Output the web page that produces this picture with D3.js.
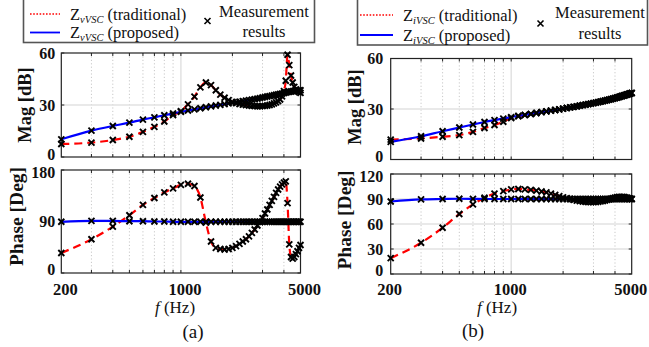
<!DOCTYPE html>
<html><head><meta charset="utf-8">
<script src="https://cdn.jsdelivr.net/npm/d3@7"></script>
<style>body{margin:0;background:#fff}svg{display:block}text{font-family:"Liberation Serif","Times New Roman",serif;fill:#111}</style>
</head><body><svg id="c" width="649" height="347"></svg>
<script>
// ---------- data ----------
const freq = [200,300,400,500,600,700,800,900,1000,
  1100,1200,1300,1400,1500,1600,1700,1800,1900,2000,
  2100,2200,2300,2400,2500,2600,2700,2800,2900,3000,
  3100,3200,3300,3400,3500,3600,3700,3800,3900,4000,
  4100,4200,4300,4400,4500,4600,4700,4800,4900,5000];
const xTickLabels = [200,1000,5000];
const gridDotted = [300,400,500,600,700,800,900,2000,3000,4000];
const gridSolid = [1000];
const magTicks = [0,30,60];
const phaseTicksA = [0,90,180];
const phaseTicksB = [0,30,60,90,120];

// (a) Z_vVSC
const magPropA = [10.2,15.2,17.9,19.8,21.6,22.9,24.1,25.1,26.0,
  26.8,27.5,28.1,28.7,29.2,29.7,30.1,30.5,30.9,31.3,
  31.6,31.9,32.2,32.5,32.8,33.1,33.4,33.7,34.0,34.3,
  34.6,34.9,35.1,35.4,35.6,35.9,36.1,36.4,36.6,36.9,
  37.1,37.4,37.6,37.8,38.0,38.1,38.2,38.3,38.4,38.5];
const magTradA = [7.5,8.3,9.8,11.7,14.5,17.4,20.5,24.2,26.5,
  30.4,34.8,40.2,43.0,41.5,38.5,36.0,34.2,32.8,31.8,
  31.1,30.6,30.2,29.9,29.7,29.5,29.4,29.3,29.3,29.4,
  29.5,29.7,30.0,30.4,30.9,31.5,32.2,33.2,35.0,38.0,
  44.0,59.0,53.0,47.0,43.0,40.5,39.0,38.0,37.5,37.0];
const phasePropA = [89.5,91.0,91.0,90.5,90.5,90.0,90.0,89.5,89.5,
  89.5,89.5,89.5,89.5,89.5,89.5,89.5,89.5,89.5,89.5,
  89.5,89.5,89.5,89.5,89.5,89.5,89.5,89.5,89.5,89.5,
  89.5,89.5,89.5,89.5,89.5,89.5,89.5,89.5,89.5,89.5,
  89.5,89.5,89.5,89.5,89.5,89.5,89.5,89.5,89.5,89.5];
const phaseTradA = [35,59,81,101,119,131,141,148,154,
  156,152,132,88,55,44,42,41,42,44,
  47,51,55,59,64,70,76,83,89,96,
  104,111,119,126,133,140,146,151,155,158,
  160,122,50,28,25,28,33,38,44,49];

// (b) Z_iVSC
const magPropB = [10.5,13.8,16.8,19.0,20.8,22.3,23.4,24.3,25.2,
  25.9,26.5,27.1,27.6,28.1,28.6,29.0,29.4,29.8,30.2,
  30.6,31.0,31.3,31.6,32.0,32.3,32.6,32.9,33.2,33.5,
  33.8,34.1,34.4,34.7,35.0,35.3,35.6,35.9,36.2,36.5,
  36.8,37.1,37.4,37.7,38.0,38.3,38.6,38.9,39.2,39.5];
const magTradB = [11.8,12.5,13.5,14.5,16.4,18.7,20.5,22.4,24.6,
  25.7,26.4,27.0,27.6,28.1,28.6,29.0,29.4,29.8,30.2,
  30.6,31.0,31.3,31.6,32.0,32.3,32.6,32.9,33.2,33.5,
  33.8,34.1,34.4,34.7,35.0,35.3,35.6,35.9,36.2,36.5,
  36.8,37.1,37.4,37.7,38.0,38.3,38.6,38.9,39.2,39.5];
const phasePropB = [87.0,89.5,90.0,90.3,90.2,90.0,90.0,90.0,90.0,
  90,90,90,90,90,90,90,90,90,90,
  90,90,90,90,90,90,90,90,90,90,
  90,90,90,90,90,90,90,90,90,90,
  90,90,90,90,90,90,90,90,90,90];
const phaseTradB = [19,37.5,55.5,72,83.5,91.5,96.5,99.5,101.5,
  102,101.5,101,100,99,98,96.5,95,93.5,92,
  91,90,89,88,87.5,87,86.5,86.3,86.2,86.2,
  86.4,86.7,87.1,87.6,88.2,88.9,89.6,90.3,91,91.6,
  92.1,92.4,92.6,92.6,92.4,92,91.5,91,90.5,90];

// ---------- drawing ----------
const svg = d3.select("#c");
const RED = "#ff0000", BLUE = "#0000ff";

function subplot(g, x, y, yTicks, tradVals, propVals, lblDx, lblShift) {
  const [x0, x1] = x.range();
  const [yb, yt] = y.range();
  g.selectAll(null).data(gridDotted).join("line")
    .attr("x1", d => x(d)).attr("x2", d => x(d)).attr("y1", yt).attr("y2", yb)
    .attr("stroke", "#c8c8c8").attr("stroke-width", 1).attr("stroke-dasharray", "1.2,2.2");
  g.selectAll(null).data(gridSolid).join("line")
    .attr("x1", d => x(d)).attr("x2", d => x(d)).attr("y1", yt).attr("y2", yb)
    .attr("stroke", "#e2e2e2").attr("stroke-width", 1.5);
  g.selectAll(null).data(yTicks.slice(1, -1)).join("line")
    .attr("x1", x0).attr("x2", x1).attr("y1", d => y(d)).attr("y2", d => y(d))
    .attr("stroke", "#e2e2e2").attr("stroke-width", 1.3);
  const xt = gridDotted.concat(gridSolid);
  g.selectAll(null).data(xt).join("line")
    .attr("x1", d => x(d)).attr("x2", d => x(d)).attr("y1", yb).attr("y2", yb - 3)
    .attr("stroke", "#222");
  g.selectAll(null).data(xt).join("line")
    .attr("x1", d => x(d)).attr("x2", d => x(d)).attr("y1", yt).attr("y2", yt + 3)
    .attr("stroke", "#222");
  g.selectAll(null).data(yTicks).join("line")
    .attr("x1", x1).attr("x2", x1 - 3).attr("y1", d => y(d)).attr("y2", d => y(d))
    .attr("stroke", "#222");
  g.selectAll(null).data(yTicks).join("line")
    .attr("x1", x0).attr("x2", x0 + 3).attr("y1", d => y(d)).attr("y2", d => y(d))
    .attr("stroke", "#222");
  const n = yTicks.length;
  g.selectAll(null).data(yTicks).join("text")
    .attr("x", x0 - lblDx)
    .attr("y", (d, i) => y(d) + (i === 0 ? -lblShift[0] : i === n - 1 ? lblShift[1] : 0))
    .attr("dy", "0.35em")
    .attr("text-anchor", "end").attr("font-weight", "bold").attr("font-size", 16)
    .text(d => d);
  g.append("rect").attr("x", x0).attr("y", yt).attr("width", x1 - x0).attr("height", yb - yt)
    .attr("fill", "none").attr("stroke", "#222").attr("stroke-width", 1.2);
  const line = vals => d3.line().x((d, i) => x(freq[i])).y(d => y(d)).curve(d3.curveMonotoneX)(vals);
  g.append("path").attr("d", line(tradVals)).attr("fill", "none")
    .attr("stroke", RED).attr("stroke-width", 2.2).attr("stroke-dasharray", "8,5");
  g.append("path").attr("d", line(propVals)).attr("fill", "none")
    .attr("stroke", BLUE).attr("stroke-width", 2.2);
  const cross = "M-3,-3L3,3M-3,3L3,-3";
  [propVals, tradVals].forEach(vals => {
    g.selectAll(null).data(vals).join("path")
      .attr("transform", (d, i) => `translate(${x(freq[i])},${y(d)})`)
      .attr("d", cross).attr("fill", "none").attr("stroke", "#000").attr("stroke-width", 1.9);
  });
}

function panel(cfg) {
  const g = svg.append("g");
  const x = d3.scaleLog().domain([200, 5000]).range([cfg.x0, cfg.x1]);
  const yM = d3.scaleLinear().domain([0, 60]).range([cfg.magBot, cfg.magTop]);
  const yP = d3.scaleLinear().domain([0, cfg.phMax]).range([cfg.phBot, cfg.phTop]);
  subplot(g.append("g"), x, yM, magTicks, cfg.magTrad, cfg.magProp, cfg.lblDx, [3, 0]);
  subplot(g.append("g"), x, yP, cfg.phTicks, cfg.phTrad, cfg.phProp, cfg.lblDx, [3.5, 2]);
  g.selectAll(null).data(xTickLabels).join("text")
    .attr("x", d => x(d) + cfg.xlDx).attr("y", cfg.xlY)
    .attr("text-anchor", "middle").attr("font-weight", "bold").attr("font-size", 16.5)
    .text(d => d);
  const xl = g.append("text").attr("x", cfg.fx).attr("y", cfg.fy).attr("text-anchor", "middle").attr("font-size", 17);
  xl.append("tspan").attr("font-style", "italic").text("f");
  xl.append("tspan").text(" (Hz)");
  g.append("text").attr("x", cfg.capX).attr("y", cfg.capY).attr("text-anchor", "middle")
    .attr("font-size", 19).text(cfg.cap);
  g.append("text").attr("transform", `translate(${cfg.magLx},${cfg.magLy}) rotate(-90)`)
    .attr("text-anchor", "middle").attr("dy", "0.35em").attr("font-weight", "bold").attr("font-size", 18.5)
    .text("Mag [dB]");
  g.append("text").attr("transform", `translate(${cfg.phLx},${cfg.phLy}) rotate(-90)`)
    .attr("text-anchor", "middle").attr("dy", "0.35em").attr("font-weight", "bold").attr("font-size", 19.5)
    .text("Phase [Deg]");
  const L = cfg.leg;
  g.append("rect").attr("x", L.x).attr("y", -1).attr("width", L.w).attr("height", L.h)
    .attr("fill", "#fff").attr("stroke", "#555").attr("stroke-width", 1.6);
  g.append("line").attr("x1", L.lx0).attr("x2", L.lx1).attr("y1", L.r1).attr("y2", L.r1)
    .attr("stroke", RED).attr("stroke-width", 1.6).attr("stroke-dasharray", "1.6,1.6");
  g.append("line").attr("x1", L.lx0).attr("x2", L.lx1).attr("y1", L.r2).attr("y2", L.r2)
    .attr("stroke", BLUE).attr("stroke-width", 1.8);
  [["(traditional)", L.r1], ["(proposed)", L.r2]].forEach(([t, ry]) => {
    const tx = g.append("text").attr("x", L.tx).attr("y", ry + 5.5).attr("font-size", 16.5);
    tx.append("tspan").text("Z");
    tx.append("tspan").attr("font-style", "italic").attr("font-size", 10.5).attr("dy", 3).text(cfg.sub);
    tx.append("tspan").attr("dy", -3).text(" " + t);
  });
  g.append("path").attr("transform", `translate(${L.cx},${L.cy})`)
    .attr("d", "M-3,-3L3,3M-3,3L3,-3").attr("stroke", "#000").attr("stroke-width", 1.6);
  g.append("text").attr("x", L.mx).attr("y", L.r1 + 3).attr("text-anchor", "middle").attr("font-size", 16.5).text("Measurement");
  g.append("text").attr("x", L.mx).attr("y", L.r2 + 4).attr("text-anchor", "middle").attr("font-size", 16.5).text("results");
}

panel({x0: 61.3, x1: 300.5, magTop: 53, magBot: 157, phTop: 170, phBot: 273, phMax: 180, phTicks: phaseTicksA,
  magTrad: magTradA, magProp: magPropA, phTrad: phaseTradA, phProp: phasePropA, lblDx: 6,
  xlDx: 4, xlY: 295, fx: 175, fy: 313, capX: 193, capY: 338, cap: "(a)",
  magLx: 25, magLy: 105, phLx: 16.5, phLy: 216.5, sub: "vVSC",
  leg: {x: 23.5, w: 291, h: 43.5, lx0: 30, lx1: 60, r1: 14, r2: 32.5, tx: 70, cx: 207.5, cy: 21, mx: 264}});
panel({x0: 390.7, x1: 631.7, magTop: 58.5, magBot: 159.5, phTop: 174, phBot: 274, phMax: 120, phTicks: phaseTicksB,
  magTrad: magTradB, magProp: magPropB, phTrad: phaseTradB, phProp: phasePropB, lblDx: 7.5,
  xlDx: -1, xlY: 294.5, fx: 497, fy: 313, capX: 473, capY: 337, cap: "(b)",
  magLx: 354.5, magLy: 107, phLx: 344, phLy: 220, sub: "iVSC",
  leg: {x: 357.5, w: 290, h: 46, lx0: 360, lx1: 393, r1: 15, r2: 35, tx: 403, cx: 540.5, cy: 23.5, mx: 600}});
</script></body></html>
